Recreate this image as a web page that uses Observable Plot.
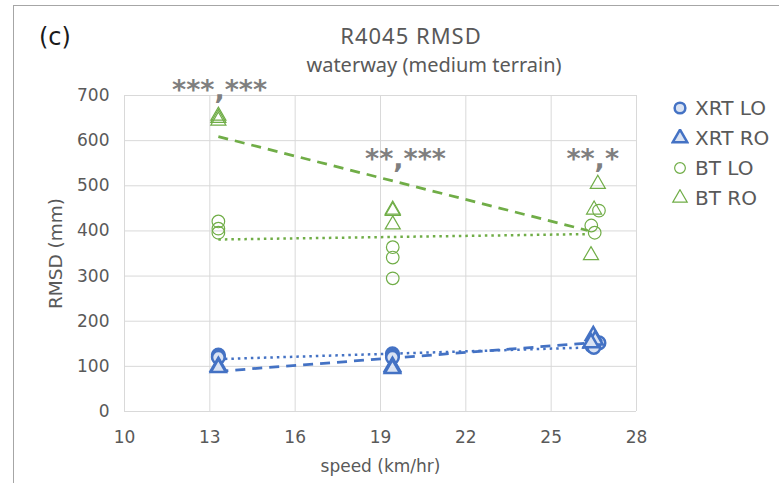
<!DOCTYPE html>
<html><head><meta charset="utf-8">
<script src="https://cdn.jsdelivr.net/npm/d3@7"></script>
<script src="https://cdn.jsdelivr.net/npm/@observablehq/plot@0.6"></script>
<style>
body{margin:0;background:#fff;}
#wrap{position:relative;width:779px;height:483px;overflow:hidden;font-family:"DejaVu Sans",sans-serif;color:#595959;background:#fff;}
#wrap svg.chart{position:absolute;left:0;top:0;}
.bt{position:absolute;background:#a6a6a6;}
#tag{position:absolute;left:39px;top:23px;font-size:24px;color:#1a1a1a;}
.title{position:absolute;text-align:center;font-family:"Noto Sans",sans-serif;color:#595959;white-space:nowrap;}
#legend{position:absolute;left:671px;top:93px;}
.li{display:flex;align-items:center;height:30px;font-size:20px;color:#595959;white-space:nowrap;}
.li svg{margin-right:6px;}
</style></head><body>
<div id="wrap">
  <div class="bt" style="left:13px;top:5px;width:766px;height:1px"></div>
  <div class="bt" style="left:13px;top:5px;width:1px;height:478px"></div>
  <div id="tag">(c)</div>
  <div class="title" style="left:211px;width:400px;top:20px;font-size:22px;letter-spacing:1px">R4045 RMSD</div>
  <div class="title" style="left:234px;width:400px;top:51px;font-size:20px">waterway (medium terrain)</div>
  <div id="legend"></div>
</div>
<script>
// ---- data ----
const xTicks = [10, 13, 16, 19, 22, 25, 28];
const yTicks = [0, 100, 200, 300, 400, 500, 600, 700];

const xrtLoSpeed = [13.3, 13.3, 13.3, 19.42, 19.42, 19.42, 26.55, 26.42, 26.68, 26.5];
const xrtLoRmsd  = [125, 122, 120, 128, 124, 120, 150, 146, 152, 142];
const xrtRoSpeed = [13.3, 13.3, 19.42, 19.42, 19.42, 26.48, 26.55, 26.4];
const xrtRoRmsd  = [100, 97, 100, 97, 95, 168, 158, 152];
const btLoSpeed  = [13.3, 13.3, 13.3, 19.43, 19.43, 19.43, 26.68, 26.41, 26.53];
const btLoRmsd   = [421, 405, 396, 364, 341, 295, 445, 412, 396];
const btRoSpeed  = [13.3, 13.3, 13.3, 19.43, 19.43, 19.43, 26.64, 26.51, 26.40];
const btRoRmsd   = [655, 650, 644, 447, 444, 414, 504, 447, 346];

const xrtLoTrendSpeed = [13.3, 26.4];
const xrtLoTrendRmsd  = [116, 142];
const xrtRoTrendSpeed = [13.3, 26.4];
const xrtRoTrendRmsd  = [89, 152];
const btLoTrendSpeed  = [13.3, 26.3];
const btLoTrendRmsd   = [381, 393];
const btRoTrendSpeed  = [13.3, 26.28];
const btRoTrendRmsd   = [609, 401];

const sigLabels = ["***,***", "**,***", "**,*"];
const sigSpeed  = [13.34, 19.88, 26.46];
const sigRmsd   = [693, 539, 540];

const seriesNames = ["XRT LO", "XRT RO", "BT LO", "BT RO"];
const xLabel = "speed (km/hr)";
const yLabel = "RMSD (mm)";

// ---- build ----
const blue = "#4472c4", blueFill = "#dae3f3", green = "#70ad47";
const pts = (xs, ys) => xs.map((x, i) => ({x, y: ys[i]}));

const chart = Plot.plot({
  width: 779, height: 483,
  marginLeft: 124, marginRight: 143, marginTop: 95, marginBottom: 72,
  style: {fontFamily: "DejaVu Sans, sans-serif", color: "#595959", background: "transparent"},
  x: {domain: [10, 28]},
  y: {domain: [0, 700]},
  marks: [
    Plot.gridX(xTicks, {stroke: "#d9d9d9", strokeOpacity: 1, strokeWidth: 1}),
    Plot.gridY(yTicks, {stroke: "#d9d9d9", strokeOpacity: 1, strokeWidth: 1}),
    Plot.axisX(xTicks, {tickSize: 0, tickPadding: 19, fontSize: 17, fill: "#595959",
      label: xLabel, labelAnchor: "center", labelArrow: "none", labelOffset: 60}),
    Plot.axisY(yTicks, {tickSize: 0, tickPadding: 15, fontSize: 17, fill: "#595959", label: null}),
    Plot.text([yLabel], {frameAnchor: "left", text: d => d, rotate: -90, dx: -68,
      fontSize: 18.5, fill: "#595959", textAnchor: "middle", lineAnchor: "middle"}),
    Plot.line(pts(btRoTrendSpeed, btRoTrendRmsd), {x: "x", y: "y", stroke: green, strokeWidth: 2.75, strokeDasharray: "10,7", strokeLinecap: "butt"}),
    Plot.line(pts(btLoTrendSpeed, btLoTrendRmsd), {x: "x", y: "y", stroke: green, strokeWidth: 2.5, strokeDasharray: "2.5,4", strokeLinecap: "butt"}),
    Plot.line(pts(xrtRoTrendSpeed, xrtRoTrendRmsd), {x: "x", y: "y", stroke: blue, strokeWidth: 2.75, strokeDasharray: "10,7", strokeLinecap: "butt"}),
    Plot.line(pts(xrtLoTrendSpeed, xrtLoTrendRmsd), {x: "x", y: "y", stroke: blue, strokeWidth: 2.5, strokeDasharray: "2.5,4", strokeLinecap: "butt"}),
    Plot.dot(pts(btLoSpeed, btLoRmsd), {x: "x", y: "y", symbol: "circle", r: 6.3, stroke: green, strokeWidth: 1.2, fill: "none"}),
    Plot.dot(pts(btRoSpeed, btRoRmsd), {x: "x", y: "y", symbol: "triangle", r: 5.6, stroke: green, strokeWidth: 1.2, fill: "none"}),
    Plot.dot(pts(xrtLoSpeed, xrtLoRmsd), {x: "x", y: "y", symbol: "circle", r: 6.3, stroke: blue, strokeWidth: 2.5, fill: blueFill}),
    Plot.dot(pts(xrtRoSpeed, xrtRoRmsd), {x: "x", y: "y", symbol: "triangle", r: 5.6, stroke: blue, strokeWidth: 2.5, fill: blueFill}),
    Plot.text(sigLabels.map((t, i) => ({t, x: sigSpeed[i], y: sigRmsd[i]})), {
      x: "x", y: "y", text: "t", fontSize: 27, fontWeight: "bold", fill: "#7f7f7f",
      textAnchor: "middle", lineAnchor: "bottom", clip: false})
  ]
});
chart.classList.add("chart");
document.getElementById("wrap").insertBefore(chart, document.getElementById("tag"));

// legend
const legend = d3.select("#legend");
const legendStyle = [
  {sym: d3.symbolCircle, stroke: blue, fill: blueFill, sw: 2.5},
  {sym: d3.symbolTriangle, stroke: blue, fill: blueFill, sw: 2.5},
  {sym: d3.symbolCircle, stroke: green, fill: "none", sw: 1.2},
  {sym: d3.symbolTriangle, stroke: green, fill: "none", sw: 1.2}
];
seriesNames.forEach((name, i) => {
  const s = legendStyle[i];
  const row = legend.append("div").attr("class", "li");
  const svg = row.append("svg").attr("width", 18).attr("height", 18);
  svg.append("path").attr("transform", "translate(9,9)")
    .attr("d", d3.symbol(s.sym, 90)())
    .attr("fill", s.fill).attr("stroke", s.stroke).attr("stroke-width", s.sw);
  row.append("span").text(name);
});
</script>
</body></html>
